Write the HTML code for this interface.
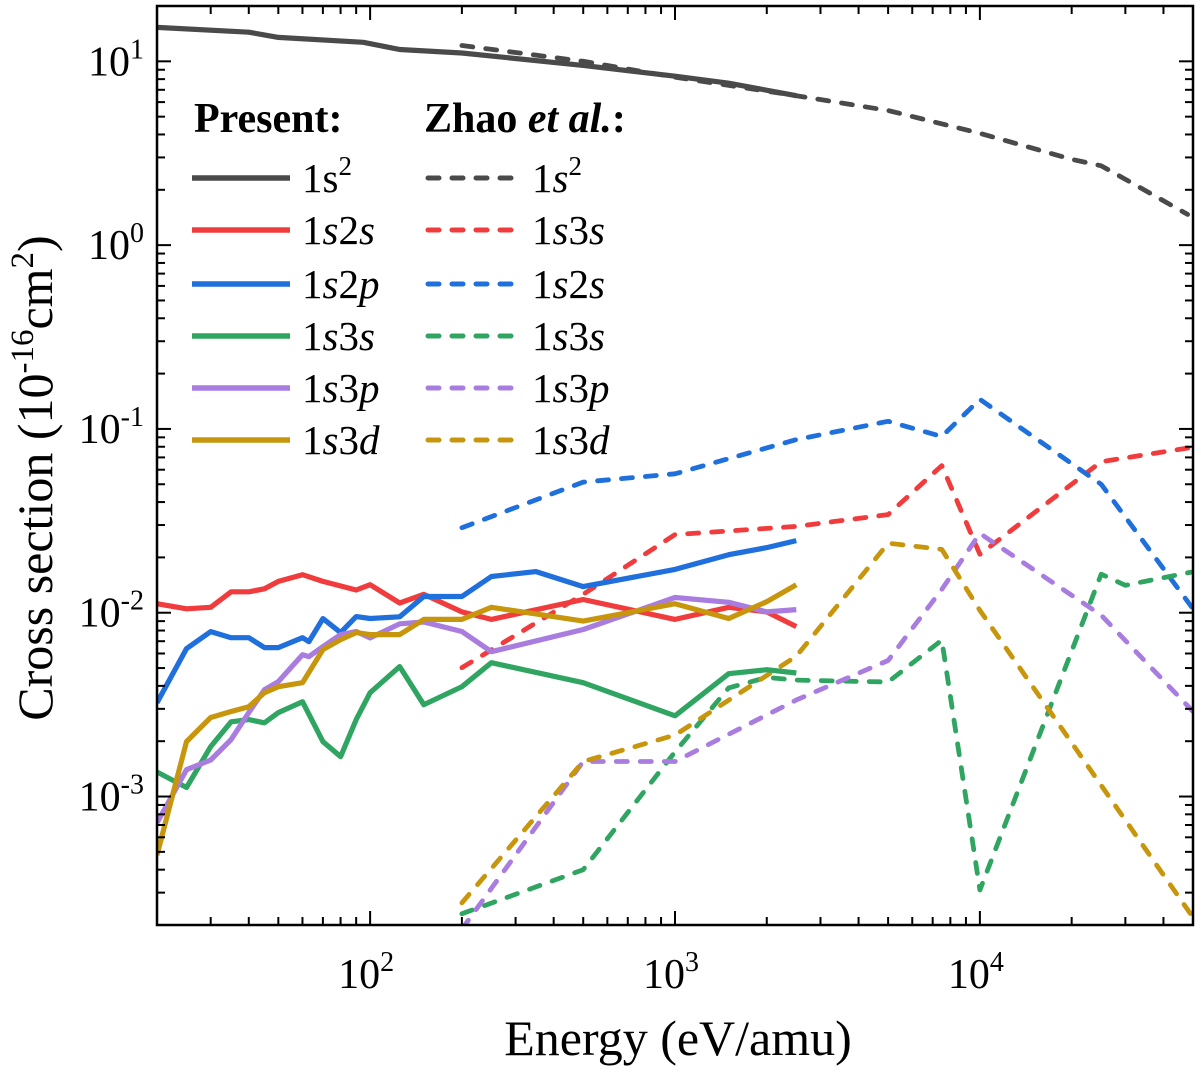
<!DOCTYPE html>
<html><head><meta charset="utf-8">
<style>
html,body{margin:0;padding:0;background:#fff;}
svg{display:block;font-family:"Liberation Serif",serif;}
</style></head>
<body>
<svg id="chart" width="1200" height="1070" viewBox="0 0 1200 1070" xmlns="http://www.w3.org/2000/svg">
<defs><clipPath id="pc"><rect x="157" y="6" width="1036" height="919"/></clipPath></defs>
<g id="marks" clip-path="url(#pc)"></g>
<g id="axes"></g>
<g id="legend"></g>
</svg>
<script>
// ---- data ----
const presentS2E = [20,40,50,95,125,200,500,1000,1500,2500];
const presentS2V = [15.3,14.4,13.5,12.7,11.6,11.1,9.5,8.3,7.6,6.5];
const present2sE = [20,25,30,35,40,45,50,60,70,90,100,125,150,200,250,500,1000,1500,2000,2500];
const present2sV = [0.0112,0.0105,0.0107,0.0130,0.0130,0.0135,0.0148,0.0161,0.0148,0.0133,0.0142,0.0113,0.0126,0.0101,0.0092,0.0118,0.0092,0.0107,0.0101,0.0084];
const present2pE = [20,25,30,35,40,45,50,60,63,70,80,90,100,125,150,200,250,350,500,1000,1500,2000,2500];
const present2pV = [0.00324,0.00638,0.00789,0.00731,0.00731,0.00646,0.00646,0.00731,0.00696,0.00929,0.0078,0.00953,0.0093,0.0095,0.01225,0.01225,0.01574,0.01675,0.01387,0.0172,0.0207,0.0226,0.0247];
const present3sE = [20,25,30,35,40,45,50,60,70,80,90,100,125,150,200,250,500,1000,1500,2000,2500];
const present3sV = [0.00136,0.00112,0.00187,0.00255,0.00262,0.00252,0.00286,0.00328,0.00199,0.00165,0.00262,0.00367,0.00509,0.00316,0.00396,0.00535,0.00416,0.00275,0.00466,0.0049,0.0047];
const present3pE = [20,25,30,35,40,45,50,60,63,70,80,90,100,125,150,200,250,500,1000,1500,2000,2500];
const present3pV = [0.00072,0.0014,0.00158,0.00204,0.00286,0.00381,0.00422,0.00591,0.00577,0.00654,0.0076,0.0079,0.0073,0.0087,0.0089,0.0079,0.00614,0.0081,0.0121,0.0114,0.0101,0.0104];
const present3dE = [20,25,30,35,40,45,50,60,70,80,90,100,125,150,200,250,500,1000,1500,2000,2500];
const present3dV = [0.00048,0.00199,0.00269,0.0029,0.00308,0.00367,0.00396,0.00416,0.0063,0.00714,0.0078,0.0076,0.0076,0.0092,0.0092,0.0107,0.0090,0.0112,0.0093,0.0115,0.0142];
const zhaoE = [200,500,1000,2500,5000,7500,10000,25000,50000];
const zhaoS2E = [200,500,1000,2500,5000,10000,20000,25000,30000,48000];
const zhaoS2V = [12.2,10,8.2,6.5,5.4,4.06,2.93,2.7,2.28,1.47];
const zhao3sRedV = [0.00502,0.0126,0.0266,0.0295,0.0342,0.0632,0.0208,0.0663,0.0795];
const zhao2sV = [0.029,0.0514,0.057,0.0875,0.11,0.091,0.145,0.05,0.0105];
const zhao3sGE = [200,500,1000,1500,2000,2500,5000,7500,10000,25000,30000,50000];
const zhao3sGV = [0.00023,0.0004,0.00175,0.0039,0.00445,0.0043,0.0042,0.0071,0.00031,0.0162,0.0141,0.0167];
const zhao3pV = [0.00019,0.00155,0.00155,0.00335,0.0055,0.0134,0.027,0.0097,0.0029];
const zhao3dV = [0.000264,0.00155,0.00216,0.0058,0.0239,0.0221,0.0103,0.00115,0.00022];
const xTickLabels = ["2","3","4"];
const yTickLabels = ["1","0","-1","-2","-3"];

// ---- scales ----
const X0=157,X1=1193,Y0=6,Y1=925;
const LX0=Math.log10(20),LX1=Math.log10(50000);
const LY0=Math.log10(2e-4),LY1=Math.log10(20);
function sx(v){return X0+(Math.log10(v)-LX0)/(LX1-LX0)*(X1-X0);}
function sy(v){return Y1-(Math.log10(v)-LY0)/(LY1-LY0)*(Y1-Y0);}
const NS="http://www.w3.org/2000/svg";
function mk(t,a,p){const e=document.createElementNS(NS,t);for(const k in a)e.setAttribute(k,a[k]);p.appendChild(e);return e;}
const marks=document.getElementById('marks'),axes=document.getElementById('axes'),legend=document.getElementById('legend');

const C={gray:"#4a4a4a",red:"#f03c3c",blue:"#1f6fdc",green:"#2fa561",purple:"#a97ce0",gold:"#c8960c"};
const DASH="11 13";
function line(E,V,color,dashed,name){
  const d=E.map((e,i)=>(i?"L":"M")+sx(e).toFixed(1)+","+sy(V[i]).toFixed(1)).join(" ");
  const p=mk('path',{d:d,fill:"none",stroke:color,"stroke-width":dashed?4.8:5.2,"stroke-linejoin":"round","stroke-linecap":dashed?"round":"butt"},marks);
  if(dashed)p.setAttribute('stroke-dasharray',DASH);
  
  
}
line(zhaoS2E,zhaoS2V,C.gray,true,'zhao-1s2-line');
line(zhaoE,zhao3sRedV,C.red,true,'zhao-1s3s-red-line');
line(zhaoE,zhao2sV,C.blue,true,'zhao-1s2s-line');
line(zhao3sGE,zhao3sGV,C.green,true,'zhao-1s3s-green-line');
line(zhaoE,zhao3pV,C.purple,true,'zhao-1s3p-line');
line(zhaoE,zhao3dV,C.gold,true,'zhao-1s3d-line');
line(presentS2E,presentS2V,C.gray,false,'present-1s2-line');
line(present2sE,present2sV,C.red,false,'present-1s2s-line');
line(present2pE,present2pV,C.blue,false,'present-1s2p-line');
line(present3sE,present3sV,C.green,false,'present-1s3s-line');
line(present3pE,present3pV,C.purple,false,'present-1s3p-line');
line(present3dE,present3dV,C.gold,false,'present-1s3d-line');

// ---- axes ----
const fr=mk('rect',{x:X0,y:Y0,width:X1-X0,height:Y1-Y0,fill:"none",stroke:"#000","stroke-width":2.5},axes);

function tick(x1,y1,x2,y2){mk('line',{x1,y1,x2,y2,stroke:"#000","stroke-width":2},axes);}
for(let d=1;d<=4;d++){for(let m=1;m<10;m++){const v=m*Math.pow(10,d);if(v<20||v>50000)continue;const x=sx(v);const L=m===1?14:8;tick(x,Y1,x,Y1-L);tick(x,Y0,x,Y0+L);}}
for(let d=-4;d<=1;d++){for(let m=1;m<10;m++){const v=m*Math.pow(10,d);if(v<2e-4||v>20)continue;const y=sy(v);const L=m===1?14:8;tick(X0,y,X0+L,y);tick(X1,y,X1-L,y);}}
xTickLabels.forEach(s=>{const x=sx(Math.pow(10,+s));
  const t=mk('text',{x:x-4,y:988,"font-size":42,"text-anchor":"middle",fill:"#000"},axes);
  
  t.appendChild(document.createTextNode("10"));
  const sp=mk('tspan',{dy:-17,"font-size":28},t);sp.textContent=s;});
yTickLabels.forEach(s=>{const y=sy(Math.pow(10,+s));
  const t=mk('text',{x:144,y:y+14,"font-size":42,"text-anchor":"end",fill:"#000"},axes);
  
  t.appendChild(document.createTextNode("10"));
  const sp=mk('tspan',{dy:-17,"font-size":28},t);sp.textContent=s;});
const xt=mk('text',{x:678,y:1055,"font-size":50,"text-anchor":"middle",fill:"#000"},axes);

xt.textContent="Energy (eV/amu)";
const yt=mk('text',{x:0,y:0,"font-size":50,"text-anchor":"middle",fill:"#000",transform:"translate(52,478) rotate(-90)"},axes);

yt.innerHTML='Cross section (10<tspan dy="-19" font-size="33">-16</tspan><tspan dy="19">cm</tspan><tspan dy="-19" font-size="33">2</tspan><tspan dy="19">)</tspan>';

// ---- legend ----
const h1=mk('text',{x:194,y:132,"font-size":42,"font-weight":"bold",fill:"#000"},legend);

h1.textContent="Present:";
const h2=mk('text',{x:424,y:132,"font-size":42,"font-weight":"bold",fill:"#000"},legend);

h2.innerHTML='Zhao <tspan font-style="italic">et al.</tspan>:';
const rowsL=[[C.gray,'1s<tspan dy="-17" font-size="27">2</tspan>'],[C.red,'1<tspan font-style="italic">s</tspan>2<tspan font-style="italic">s</tspan>'],[C.blue,'1<tspan font-style="italic">s</tspan>2<tspan font-style="italic">p</tspan>'],[C.green,'1<tspan font-style="italic">s</tspan>3<tspan font-style="italic">s</tspan>'],[C.purple,'1<tspan font-style="italic">s</tspan>3<tspan font-style="italic">p</tspan>'],[C.gold,'1<tspan font-style="italic">s</tspan>3<tspan font-style="italic">d</tspan>']];
const rowsR=[[C.gray,'1<tspan font-style="italic">s</tspan><tspan dy="-17" font-size="27">2</tspan>'],[C.red,'1<tspan font-style="italic">s</tspan>3<tspan font-style="italic">s</tspan>'],[C.blue,'1<tspan font-style="italic">s</tspan>2<tspan font-style="italic">s</tspan>'],[C.green,'1<tspan font-style="italic">s</tspan>3<tspan font-style="italic">s</tspan>'],[C.purple,'1<tspan font-style="italic">s</tspan>3<tspan font-style="italic">p</tspan>'],[C.gold,'1<tspan font-style="italic">s</tspan>3<tspan font-style="italic">d</tspan>']];
const rowY=[178,230,284,336,388,440];
rowsL.forEach((r,i)=>{const y=rowY[i];
  const l=mk('line',{x1:192,y1:y,x2:290,y2:y,stroke:r[0],"stroke-width":5.5},legend);
  
  const t=mk('text',{x:302,y:y+14,"font-size":41,fill:"#000"},legend);
  
  t.innerHTML=r[1];});
rowsR.forEach((r,i)=>{const y=rowY[i];
  const l=mk('line',{x1:428,y1:y,x2:520,y2:y,stroke:r[0],"stroke-width":5,"stroke-dasharray":DASH,"stroke-linecap":"round"},legend);
  
  const t=mk('text',{x:532,y:y+14,"font-size":41,fill:"#000"},legend);
  
  t.innerHTML=r[1];});
</script>
</body></html>
